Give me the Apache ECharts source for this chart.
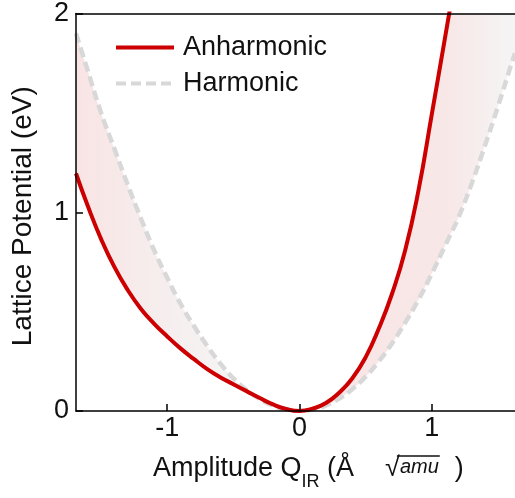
<!DOCTYPE html>
<html>
<head>
<meta charset="utf-8">
<script src="https://cdn.jsdelivr.net/npm/echarts@6/dist/echarts.min.js"></script>
<style>html,body{margin:0;padding:0;background:#fff}#c{width:515px;height:498px}</style>
</head>
<body>
<div id="c"></div>
<script>
// Amplitude samples (Å·√amu)
const xs = [-1.69,-1.6,-1.5,-1.4,-1.3,-1.2,-1.1,-1.0,-0.9,-0.8,-0.7,-0.6,-0.5,-0.4,-0.3,-0.2,-0.1,0,
            0.1,0.2,0.3,0.4,0.5,0.6,0.7,0.8,0.9,1.0,1.1,1.14,1.2,1.3,1.4,1.5,1.6,1.63];
// Harmonic potential (eV)
const harmonic = [1.90,1.71,1.50,1.32,1.14,0.97,0.81,0.67,0.54,0.43,0.33,0.24,0.165,0.105,0.06,0.027,0.007,0,
                  0.007,0.028,0.062,0.11,0.172,0.25,0.34,0.445,0.56,0.69,0.83,0.885,0.97,1.14,1.33,1.53,1.74,1.80];
// Anharmonic potential (eV); beyond the top of the plot it is not visible
const anharmonic = [1.195,1.03,0.865,0.725,0.61,0.515,0.44,0.375,0.315,0.262,0.212,0.17,0.135,0.1,0.065,0.033,0.01,0,
                    0.012,0.04,0.092,0.165,0.27,0.415,0.59,0.81,1.11,1.49,1.875,2.03,null,null,null,null,null,null];
const xTicks = [-1, 0, 1];
const yTicks = [0, 1, 2];
const xMin = -1.69, xMax = 1.63, yMin = 0, yMax = 2;

const harmData = xs.map((x, i) => [x, harmonic[i]]);
const anhData = xs.map((x, i) => [x, anharmonic[i]]);

// band between the curves: upper envelope (shaded) and lower envelope (white mask)
const upperL = [], upperR = [], lowerAll = [];
xs.forEach((x, i) => {
  const h = harmonic[i];
  const a = anharmonic[i] == null ? yMax : Math.min(anharmonic[i], yMax);
  if (x <= 0) upperL.push([x, Math.max(a, h)]);
  if (x >= 0) upperR.push([x, Math.max(a, h)]);
  lowerAll.push([x, Math.min(a, h)]);
});

const FONT = 'Liberation Sans';
// x-axis title layout (measured so the overline sits over "amu")
const mctx = document.createElement('canvas').getContext('2d');
function tw(t, size, style) { mctx.font = (style || '') + ' ' + size + 'px "' + FONT + '"'; return mctx.measureText(t).width; }
const T0 = 153, TY = 455, G1 = 31, G2 = 16;
const xsq = T0 + tw('Amplitude Q', 27) + tw('IR', 18) + tw(' (Å', 27) + G1;
const wsq = tw('√', 27), wamu = tw('amu', 20, 'italic');
const olX1 = xsq + wsq * 0.8, olX2 = xsq + wsq + wamu + 1;

const chart = echarts.init(document.getElementById('c'), null, {renderer: 'canvas'});
const gradL = new echarts.graphic.LinearGradient(0, 0, 1, 0, [
  {offset: 0, color: '#f9e4e4'}, {offset: 0.35, color: '#f6eded'}, {offset: 0.7, color: '#f5f4f4'}, {offset: 1, color: '#f5f5f5'}]);
const gradR = new echarts.graphic.LinearGradient(0, 0, 1, 0, [
  {offset: 0, color: '#f9e6e6'}, {offset: 0.68, color: '#f8e7e7'}, {offset: 1, color: '#f5f5f5'}]);
const hidden = {opacity: 0, width: 0};
const sm = 0.5;
const tc = '#111';

chart.setOption({
  animation: false,
  textStyle: {fontFamily: FONT},
  grid: {left: 76, top: 13, right: 0, bottom: 87, containLabel: false},
  legend: {
    data: ['Anharmonic', 'Harmonic'], orient: 'vertical', left: 114, top: 34, padding: 0,
    itemWidth: 58, itemHeight: 14, itemGap: 9,
    itemStyle: {opacity: 0},
    lineStyle: {width: 4},
    textStyle: {fontSize: 27, color: tc, fontFamily: FONT, padding: [0, 0, 0, 4]}
  },
  xAxis: [{
    type: 'value', min: xMin, max: xMax, z: 10,
    axisLine: {onZero: false, lineStyle: {color: '#000', width: 1.5}},
    axisTick: {inside: true, length: 7, lineStyle: {color: '#000', width: 1.5}, customValues: xTicks},
    axisLabel: {fontSize: 27, color: tc, margin: 4, customValues: xTicks},
    splitLine: {show: false}
  }, {
    type: 'value', min: xMin, max: xMax, position: 'top', z: 10,
    axisLine: {show: true, onZero: false, lineStyle: {color: '#000', width: 1.5}},
    axisTick: {show: false}, axisLabel: {show: false}, splitLine: {show: false}
  }],
  yAxis: {
    type: 'value', min: yMin, max: yMax, interval: 1, z: 10,
    name: 'Lattice Potential (eV)', nameLocation: 'middle', nameGap: 39,
    nameTextStyle: {fontSize: 28, color: tc, fontFamily: FONT, padding: [0, 8, 0, 0]},
    axisLine: {show: true, onZero: false, lineStyle: {color: '#000', width: 1.5}},
    axisTick: {inside: true, length: 7, lineStyle: {color: '#000', width: 1.5}},
    axisLabel: {fontSize: 27, color: tc, margin: 7, padding: [5, 0, 0, 0], formatter: v => yTicks.includes(v) ? String(v) : ''},
    splitLine: {show: false}
  },
  series: [
    {name: 'bandL', type: 'line', data: upperL, symbol: 'none', smooth: sm, lineStyle: hidden, silent: true, z: 1,
     areaStyle: {color: gradL, opacity: 1}},
    {name: 'bandR', type: 'line', data: upperR, symbol: 'none', smooth: sm, lineStyle: hidden, silent: true, z: 1,
     areaStyle: {color: gradR, opacity: 1}},
    {name: 'mask', type: 'line', data: lowerAll, symbol: 'none', smooth: sm, lineStyle: hidden, silent: true, z: 2,
     areaStyle: {color: '#ffffff', opacity: 1}},
    {name: 'Harmonic', type: 'line', data: harmData, symbol: 'none', smooth: sm, z: 3,
     lineStyle: {color: '#d8d8d8', width: 4.5, type: [10, 5]}, itemStyle: {color: '#d8d8d8'}},
    {name: 'Anharmonic', type: 'line', data: anhData, symbol: 'none', smooth: sm, z: 4, connectNulls: false,
     lineStyle: {color: '#cc0000', width: 4}, itemStyle: {color: '#cc0000'}}
  ],
  graphic: [
    {type: 'text', x: T0, y: TY, z: 20, style: {
      text: '{m|Amplitude Q}{sub|IR}{m| (Å}{g1| }{sq|√}{it|amu}{g2| }{m|)}',
      align: 'left', verticalAlign: 'top', fill: tc, fontFamily: FONT, fontSize: 27,
      rich: {
        m: {fontSize: 27, fontFamily: FONT, fill: tc, lineHeight: 30, verticalAlign: 'top'},
        sub: {fontSize: 18, fontFamily: FONT, fill: tc, lineHeight: 30, verticalAlign: 'top', padding: [18, 0, 0, 0]},
        g1: {fontSize: 27, fontFamily: FONT, lineHeight: 30, width: G1, verticalAlign: 'top'},
        sq: {fontSize: 27, fontFamily: FONT, fill: tc, lineHeight: 30, verticalAlign: 'top'},
        it: {fontSize: 20, fontFamily: FONT, fontStyle: 'italic', fill: tc, lineHeight: 30, verticalAlign: 'top', padding: [2, 0, 0, 0]},
        g2: {fontSize: 27, fontFamily: FONT, lineHeight: 30, width: G2, verticalAlign: 'top'}
      }}},
    {type: 'line', z: 20, shape: {x1: olX1, y1: TY + 1, x2: olX2, y2: TY + 1}, style: {stroke: tc, lineWidth: 1.3}}
  ]
});
</script>
</body>
</html>
